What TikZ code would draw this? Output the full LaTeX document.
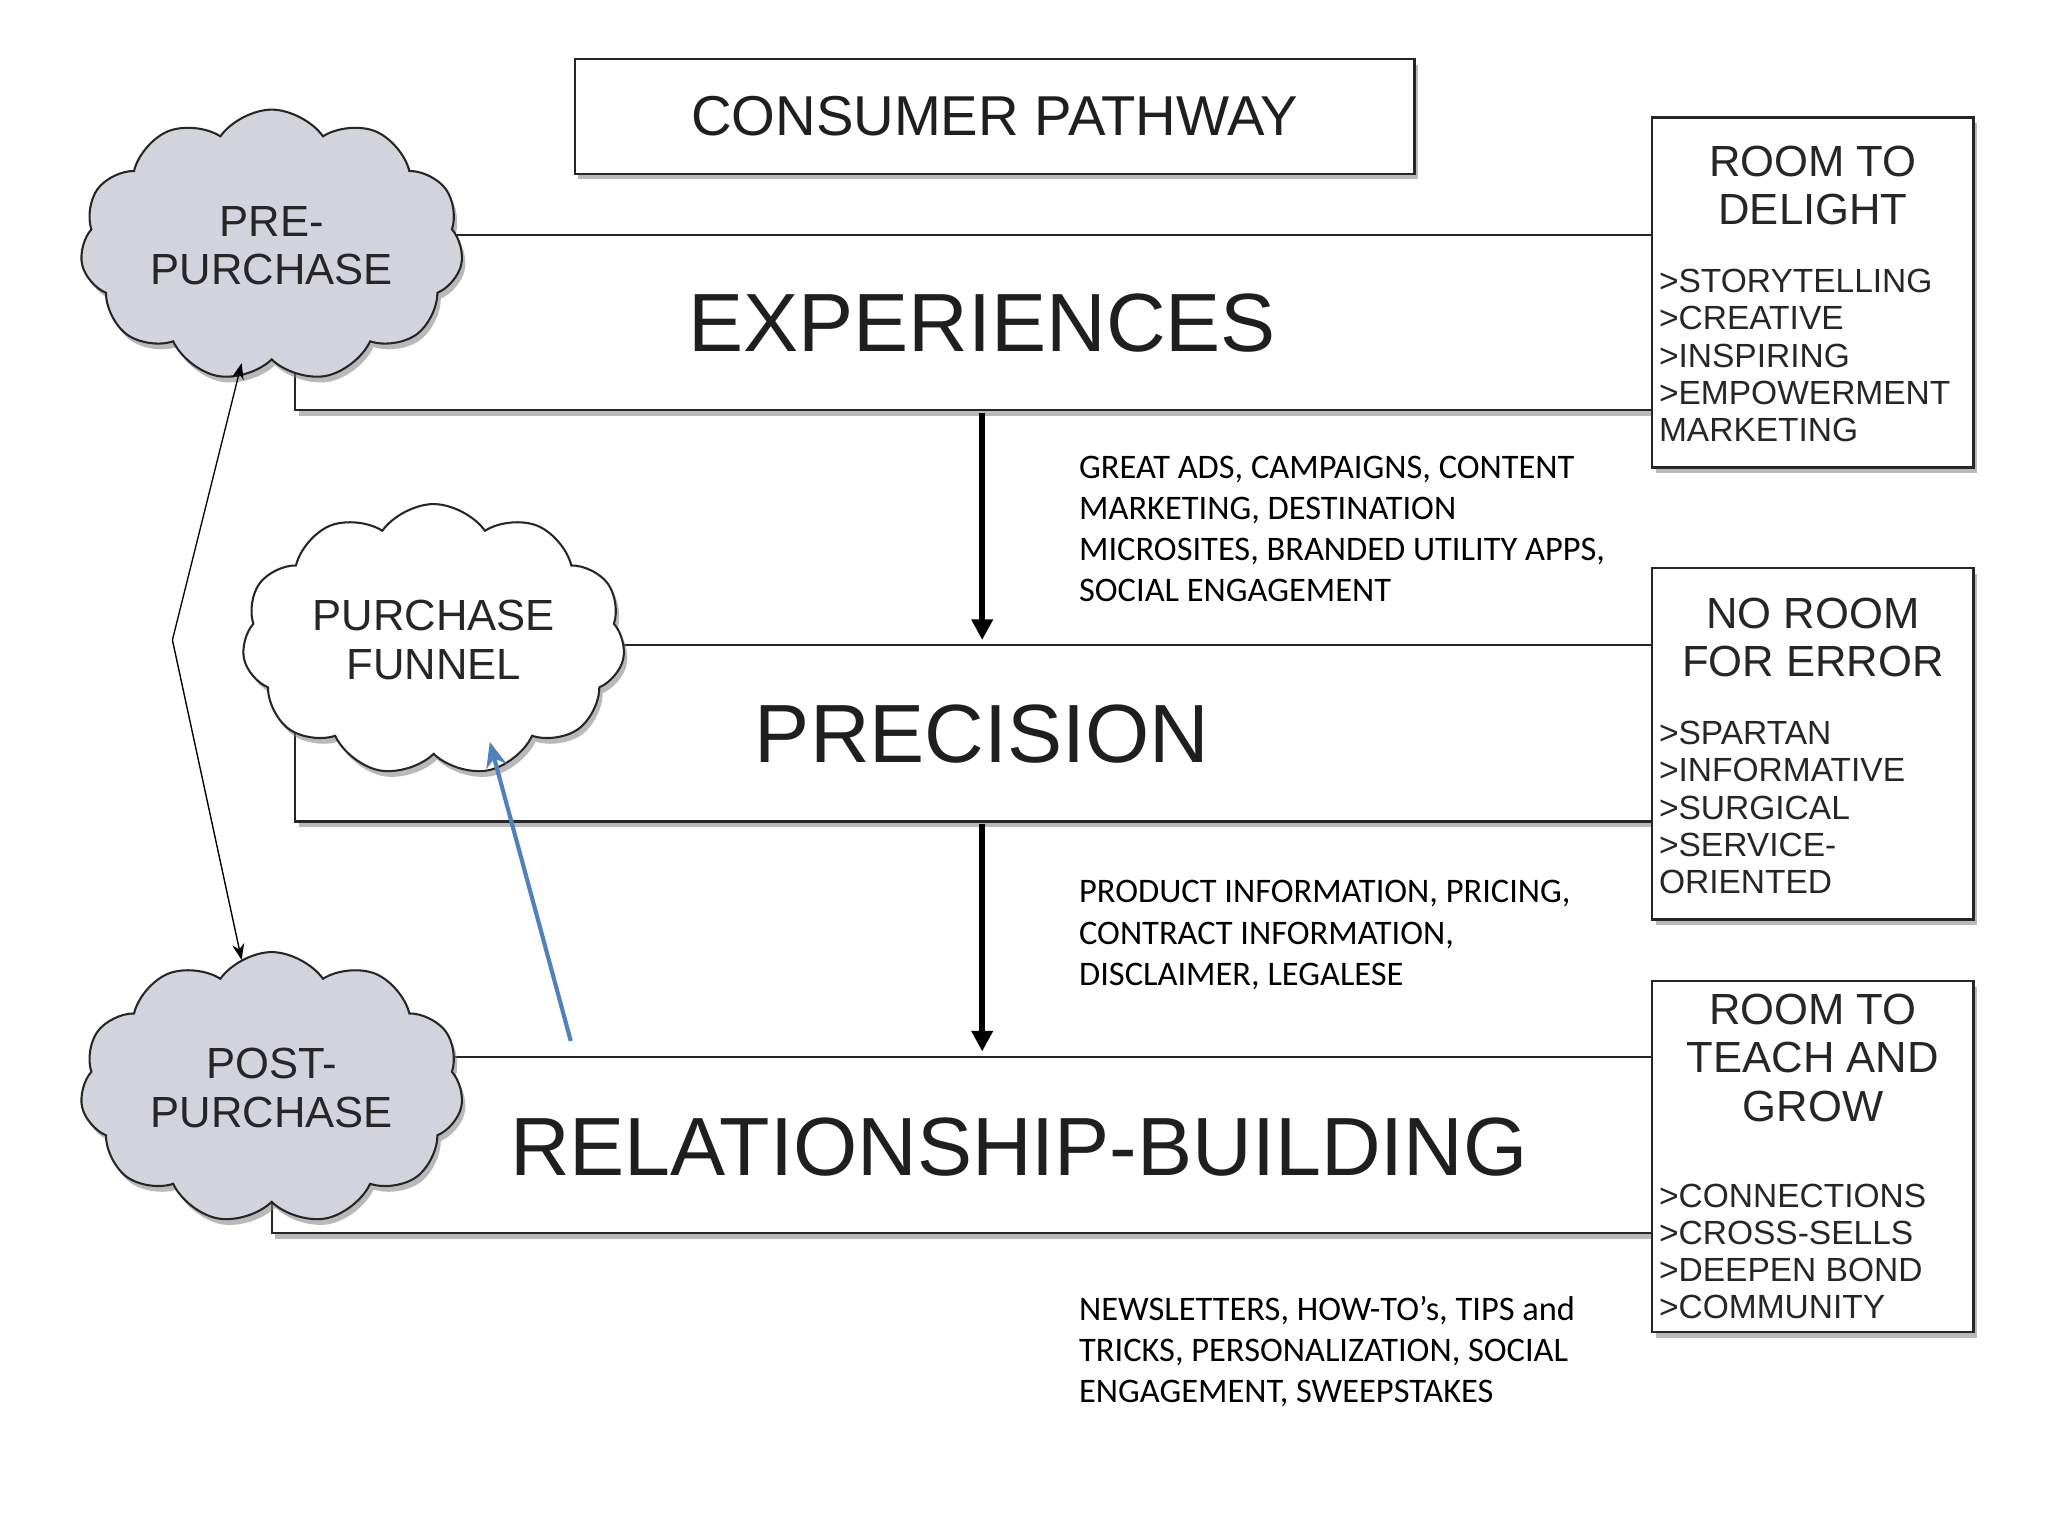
\documentclass[tikz,border=0pt]{standalone}
\usepackage{fontspec}
\setmainfont{Liberation Sans}
\newfontfamily\capfont{Carlito}
\usetikzlibrary{shapes.symbols,shadows,arrows.meta}
\begin{document}
\begin{tikzpicture}[x=0.02cm,y=-0.02cm,
  shad/.style={drop shadow={shadow xshift=1.5pt,shadow yshift=-2.5pt,opacity=0.55}},
  band/.style={draw=black!85,line width=1pt,fill=white,shad},
  rbox/.style={draw=black!85,line width=1pt,fill=white,shad},
  cl/.style={cloud,cloud puffs=11,cloud puff arc=110,aspect=1.6,draw=black!85,line width=0.9pt,minimum width=5.0cm,minimum height=3.0cm,align=center,font=\fontsize{19}{21}\selectfont,text=black!85},
  big/.style={font=\fontsize{36}{40}\selectfont,text=black!88},
  captxt/.style={anchor=north west,align=left,font=\capfont\fontsize{15}{17.9}\selectfont},
  hd/.style={align=center,font=\fontsize{19}{21}\selectfont,text=black!85},
  lst/.style={anchor=north west,align=left,font=\fontsize{14.6}{16.2}\selectfont,text=black!85},
  thk/.style={line width=2.5pt,-{Triangle[length=9pt,width=9pt]}}]
\useasboundingbox (0,0) rectangle (1568,1176);
\fill[white] (0,0) rectangle (1568,1176);
% title
\node[rbox,minimum width=12.86cm,minimum height=1.76cm,font=\fontsize{24.5}{26}\selectfont,text=black!88] (title) at (761.5,89) {CONSUMER PATHWAY};
% bands
\draw[band] (226,180) rectangle (1265,314);
\draw[band] (226,494) rectangle (1265,629);
\draw[band] (208,809) rectangle (1265,944);
\node[big] (exp) at (752,247) {EXPERIENCES};
\node[big] (pre) at (752,562) {PRECISION};
\node[big] (rel) at (780,878) {RELATIONSHIP-BUILDING};
% right boxes
\draw[rbox] (1265,90) rectangle (1511,358);
\draw[rbox] (1265,435) rectangle (1511,704);
\draw[rbox] (1265,751) rectangle (1511,1020);
\node[hd] (h1) at (1388,142) {ROOM TO\\DELIGHT};
\node[lst] (l1) at (1264,200) {>STORYTELLING\\>CREATIVE\\>INSPIRING\\>EMPOWERMENT\\MARKETING};
\node[hd] (h2) at (1388,488) {NO ROOM\\FOR ERROR};
\node[lst] (l2) at (1264,546) {>SPARTAN\\>INFORMATIVE\\>SURGICAL\\>SERVICE-\\ORIENTED};
\node[hd] (h3) at (1388,810) {ROOM TO\\TEACH AND\\GROW};
\node[lst] (l3) at (1264,900) {>CONNECTIONS\\>CROSS-SELLS\\>DEEPEN BOND\\>COMMUNITY};
% clouds
\node[cl,fill=blue!15!gray!30,shad] (c1) at (208,188) {PRE-\\PURCHASE};
\node[cl,fill=white,shad] (c2) at (332,490) {PURCHASE\\FUNNEL};
\node[cl,fill=blue!15!gray!30,shad] (c3) at (208,833) {POST-\\PURCHASE};
% vertical arrows
\coordinate (a1s) at (752,316); \coordinate (a1e) at (752,490);
\coordinate (a2s) at (752,631); \coordinate (a2e) at (752,805);
\draw[thk] (a1s) -- (a1e);
\draw[thk] (a2s) -- (a2e);
% captions
\node[captxt] (t1) at (820,343) {GREAT ADS, CAMPAIGNS, CONTENT\\MARKETING, DESTINATION\\MICROSITES, BRANDED UTILITY APPS,\\SOCIAL ENGAGEMENT};
\node[captxt] (t2) at (820,668) {PRODUCT INFORMATION, PRICING,\\CONTRACT INFORMATION,\\DISCLAIMER, LEGALESE};
\node[captxt] (t3) at (820,986) {NEWSLETTERS, HOW-TO’s, TIPS and\\TRICKS, PERSONALIZATION, SOCIAL\\ENGAGEMENT, SWEEPSTAKES};
% left double arrow
\coordinate (la) at (185,278); \coordinate (lm) at (132,490); \coordinate (lb) at (185,735);
\draw[line width=0.6pt,{Stealth[length=7pt]}-{Stealth[length=7pt]}] (la) -- (lm) -- (lb);
% blue arrow
\coordinate (bs) at (437,797); \coordinate (be) at (375,568);
\draw[line width=1.8pt,draw={rgb,255:red,79;green,129;blue,189},-{Stealth[length=11pt,width=9pt,open]}] (bs) -- (be);
\end{tikzpicture}
\end{document}
